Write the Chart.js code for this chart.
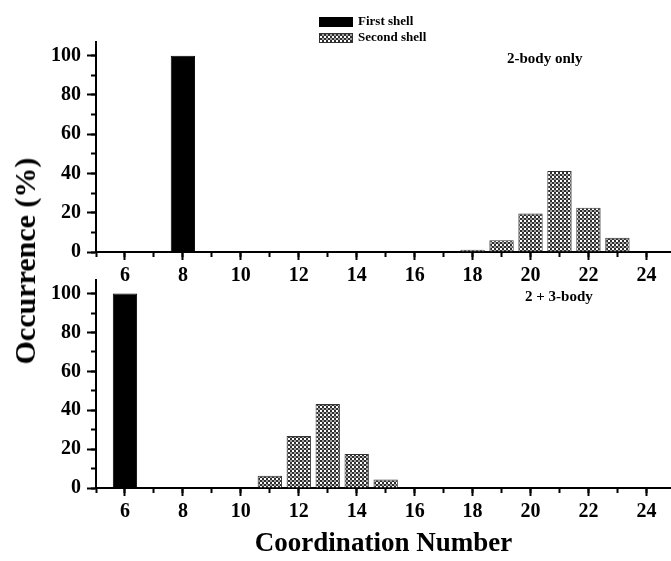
<!DOCTYPE html>
<html><head><meta charset="utf-8">
<script src="https://cdn.jsdelivr.net/npm/chart.js@4/dist/chart.umd.min.js"></script>
<style>
html,body{margin:0;padding:0;background:#fff;overflow:hidden;}
#wrap{position:relative;width:671px;height:561px;}
#top{position:absolute;left:0;top:0;width:671px;height:290px;}
#bot{position:absolute;left:0;top:262px;width:671px;height:299px;}
#ytitle{position:absolute;left:25px;top:261px;transform:translate(-50%,-50%) rotate(-90deg);font:bold 30px "Liberation Serif",serif;white-space:nowrap;color:#000;}
</style></head>
<body>
<div id="wrap">
  <div id="top"><canvas id="c1"></canvas></div>
  <div id="bot"><canvas id="c2"></canvas></div>
  <div id="ytitle">Occurrence (%)</div>
</div>
<script>
// ---- data ----
const seriesNames = ['First shell', 'Second shell'];
const xTickLabels = [6, 8, 10, 12, 14, 16, 18, 20, 22, 24];
const yTickLabels = [0, 20, 40, 60, 80, 100];

const topFirstX = [8];
const topFirstY = [100];
const topSecondX = [18, 19, 20, 21, 22, 23, 24];
const topSecondY = [1.2, 6.0, 19.6, 41.3, 22.5, 7.3, 0.3];

const botFirstX = [6];
const botFirstY = [100];
const botSecondX = [11, 12, 13, 14, 15];
const botSecondY = [6.3, 26.7, 43.2, 17.5, 4.4];

const panelLabels = ['2-body only', '2 + 3-body'];
const xAxisTitle = 'Coordination Number';

// ---- pattern ----
function makePattern() {
  const off = document.createElement('canvas');
  off.width = 4; off.height = 4;
  const g = off.getContext('2d');
  g.fillStyle = '#2e2e2e'; g.fillRect(0, 0, 4, 4);
  g.fillStyle = '#ffffff'; g.fillRect(0, 0, 2, 2);
  g.fillStyle = '#a0a0a0'; g.fillRect(2, 2, 2, 2);
  return off;
}
const patCanvas = makePattern();

const FONT = '"Liberation Serif", "Times New Roman", serif';

function pts(xs, ys) { return xs.map((x, i) => ({x: x, y: ys[i]})); }

const annotPlugin = {
  id: 'annot',
  afterDraw(chart, args, opts) {
    const ctx = chart.ctx;
    ctx.save();
    ctx.fillStyle = '#000';
    ctx.textBaseline = 'middle';
    ctx.textAlign = 'left';
    if (opts.text) {
      ctx.font = 'bold 15px ' + FONT;
      ctx.fillText(opts.text, opts.tx, opts.ty);
    }
    if (opts.legend) {
      const L = opts.legend;
      chart.data.datasets.forEach((ds, i) => {
        const y = L.y + i * L.gap;
        ctx.fillStyle = ds.backgroundColor;
        ctx.fillRect(L.x, y, L.w, L.h);
        ctx.strokeStyle = ds.borderColor;
        ctx.lineWidth = 1;
        ctx.strokeRect(L.x + 0.5, y + 0.5, L.w - 1, L.h - 1);
        ctx.fillStyle = '#000';
        ctx.font = 'bold 13px ' + FONT;
        ctx.fillText(ds.label, L.x + L.w + 5, y + L.h / 2);
      });
    }
    ctx.restore();
  }
};

function makeChart(canvasId, firstPts, secondPts, cfg) {
  const ctx = document.getElementById(canvasId).getContext('2d');
  const pattern = ctx.createPattern(patCanvas, 'repeat');
  const tickFont = {family: FONT, size: 20, weight: 'bold'};
  return new Chart(ctx, {
    type: 'bar',
    data: {
      datasets: [
        {label: seriesNames[0], data: firstPts, backgroundColor: '#000', borderColor: '#000', borderWidth: 1,
         grouped: false, barPercentage: 0.84, categoryPercentage: 1},
        {label: seriesNames[1], data: secondPts, backgroundColor: pattern, borderColor: '#333', borderWidth: 1,
         grouped: false, barPercentage: 0.84, categoryPercentage: 1}
      ]
    },
    options: {
      responsive: true,
      maintainAspectRatio: false,
      animation: false,
      layout: {padding: {top: cfg.padTop, left: 0, right: 0, bottom: 0}},
      plugins: {
        legend: {display: false},
        tooltip: {enabled: false},
        annot: {text: cfg.text, tx: cfg.tx, ty: cfg.ty, legend: cfg.legend}
      },
      scales: {
        x: {
          type: 'linear', position: 'bottom', min: 5, max: 24.85, weight: 1, offset: false,
          ticks: {stepSize: 2, includeBounds: false, autoSkip: false, maxRotation: 0, color: '#000', font: tickFont, padding: 4,
                  callback: v => xTickLabels.includes(v) ? String(v) : ''},
          grid: {drawOnChartArea: false, drawTicks: true, tickLength: 8, tickColor: '#000', tickWidth: 2, offset: false},
          border: {display: true, color: '#000', width: 2},
          title: cfg.xTitle ? {display: true, text: cfg.xTitle, color: '#000', font: {family: FONT, size: 27, weight: 'bold'}, padding: {top: 0, bottom: 1}} : {display: false},
          afterFit: s => { s.height = cfg.xHeight; }
        },
        xMinor: {
          type: 'linear', position: 'bottom', min: 5, max: 24.85, weight: 0, offset: false,
          ticks: {display: false, stepSize: 1, includeBounds: false, autoSkip: false},
          grid: {drawOnChartArea: false, drawTicks: true, tickLength: 5, tickColor: '#000', tickWidth: 2, offset: false},
          border: {display: false},
          afterFit: s => { s.height = 0; }
        },
        y: {
          type: 'linear', position: 'left', min: 0, max: 107, weight: 1,
          ticks: {stepSize: 20, includeBounds: false, color: '#000', font: tickFont, padding: 6,
                  callback: v => yTickLabels.includes(v) ? String(v) : ''},
          grid: {drawOnChartArea: false, drawTicks: true, tickLength: 9, tickColor: '#000', tickWidth: 2},
          border: {display: true, color: '#000', width: 2},
          afterFit: s => { s.width = 96; }
        },
        yMinor: {
          type: 'linear', position: 'left', min: 0, max: 107, weight: 0,
          ticks: {display: false, stepSize: 10, includeBounds: false},
          grid: {drawOnChartArea: false, drawTicks: true, tickLength: 5, tickColor: '#000', tickWidth: 2},
          border: {display: false},
          afterFit: s => { s.width = 0; }
        }
      }
    },
    plugins: [annotPlugin]
  });
}

makeChart('c1', pts(topFirstX, topFirstY), pts(topSecondX, topSecondY), {
  padTop: 42, xHeight: 38, text: panelLabels[0], tx: 507, ty: 59,
  legend: {x: 319, y: 17, w: 34, h: 10, gap: 16}
});
makeChart('c2', pts(botFirstX, botFirstY), pts(botSecondX, botSecondY), {
  padTop: 15, xHeight: 73, text: panelLabels[1], tx: 525, ty: 35, xTitle: xAxisTitle
});
</script>
</body></html>
